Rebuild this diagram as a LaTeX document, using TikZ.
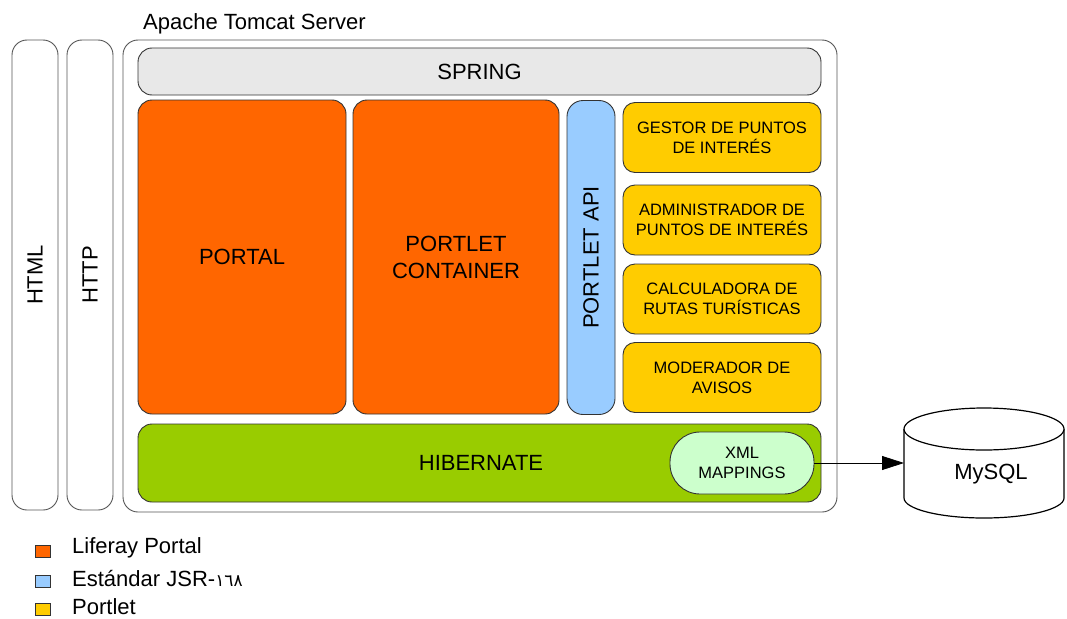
\documentclass[tikz,border=0pt]{standalone}
\usepackage{fontspec}
\setmainfont{Liberation Sans}
\newfontfamily\arabicfont{DejaVu Sans}
\usetikzlibrary{arrows.meta}
\definecolor{lrorange}{HTML}{FF6600}
\definecolor{lrblue}{HTML}{99CCFF}
\definecolor{lryellow}{HTML}{FFCC00}
\definecolor{lrgreen}{HTML}{99CC00}
\definecolor{lrlight}{HTML}{CCFFCC}
\definecolor{lrgray}{HTML}{E8E8E8}
\definecolor{lrline}{HTML}{333333}
\definecolor{lrframe}{HTML}{555555}
\tikzset{
  bigtext/.style={font=\fontsize{22}{27}\selectfont},
  smalltext/.style={font=\fontsize{16.5}{20}\selectfont},
  frame/.style={draw=lrframe, line width=0.9pt, rounded corners=15pt, inner sep=0pt, align=center, bigtext},
  block/.style={draw=lrline, line width=0.9pt, rounded corners=14pt, inner sep=0pt, align=center, bigtext},
  portletbox/.style={draw=lrline, line width=0.9pt, rounded corners=12pt, fill=lryellow, inner sep=0pt, align=center, smalltext, minimum width=198pt, minimum height=70pt},
  legendbox/.style={draw=lrline, line width=0.8pt, minimum width=15pt, minimum height=12pt, inner sep=0pt},
  legendtext/.style={anchor=west, inner sep=0pt, bigtext},
}
\begin{document}
\begin{tikzpicture}[x=1pt, y=-1pt]
\useasboundingbox (0,0) rectangle (1067,618);

% outer frames
\node[frame, rotate=90, minimum width=470pt, minimum height=46pt] (html) at (35,275) {HTML};
\node[frame, rotate=90, minimum width=470pt, minimum height=46pt] (http) at (90,275) {HTTP};
\node[frame, minimum width=714pt, minimum height=472pt] (tomcat) at (480,276) {};
\node[anchor=base west, inner sep=0pt, bigtext] (tomcatlabel) at (143,30) {Apache Tomcat Server};

% inner blocks
\node[block, fill=lrgray, minimum width=683pt, minimum height=47pt] (spring) at (479.5,71.5) {SPRING};
\node[block, fill=lrorange, minimum width=208pt, minimum height=314pt] (portal) at (242,257) {PORTAL};
\node[block, fill=lrorange, minimum width=206pt, minimum height=314pt] (container) at (456,257) {PORTLET\\CONTAINER};
\node[block, fill=lrblue, rotate=90, rounded corners=16pt, minimum width=314pt, minimum height=48pt] (api) at (591,257.5) {PORTLET API};

\node[portletbox] (gestor) at (722,137.5) {GESTOR DE PUNTOS\\DE INTERÉS};
\node[portletbox] (admin) at (722,220) {ADMINISTRADOR DE\\PUNTOS DE INTERÉS};
\node[portletbox] (calc) at (722,299) {CALCULADORA DE\\RUTAS TURÍSTICAS};
\node[portletbox] (moder) at (722,377.5) {MODERADOR DE\\AVISOS};

\node[block, fill=lrgreen, minimum width=683pt, minimum height=78pt] (hibernate) at (479.5,463) {};
\node[bigtext, inner sep=0pt] (hibtext) at (481,463) {HIBERNATE};
\node[block, fill=lrlight, rounded corners=30pt, minimum width=144pt, minimum height=62pt, smalltext] (xml) at (742,463) {XML\\MAPPINGS};

% MySQL cylinder
\draw[line width=1.2pt, fill=white] (904,429) -- (904,498)
  arc[start angle=180, end angle=0, x radius=80, y radius=20] -- (1064,429);
\draw[line width=1.2pt, fill=white] (984,429) ellipse[x radius=80, y radius=21];
\node[bigtext, inner sep=0pt] (mysql) at (991,474) {MySQL};
\coordinate (dbin) at (904,463);

\draw[line width=0.8pt, -{Triangle[length=22pt, width=14pt]}] (xml.east) -- (dbin);

% legend
\node[legendbox, fill=lrorange] (lg1) at (43,551.5) {};
\node[legendbox, fill=lrblue] (lg2) at (43,581) {};
\node[legendbox, fill=lryellow] (lg3) at (43,609.5) {};
\node[legendtext] (lt1) at (72,548) {Liferay Portal};
\node[legendtext] (lt2) at (72,578) {Estándar JSR-{\arabicfont\fontsize{17}{20}\selectfont ١٦٨}};
\node[legendtext] (lt3) at (72,607) {Portlet};
\end{tikzpicture}
\end{document}
